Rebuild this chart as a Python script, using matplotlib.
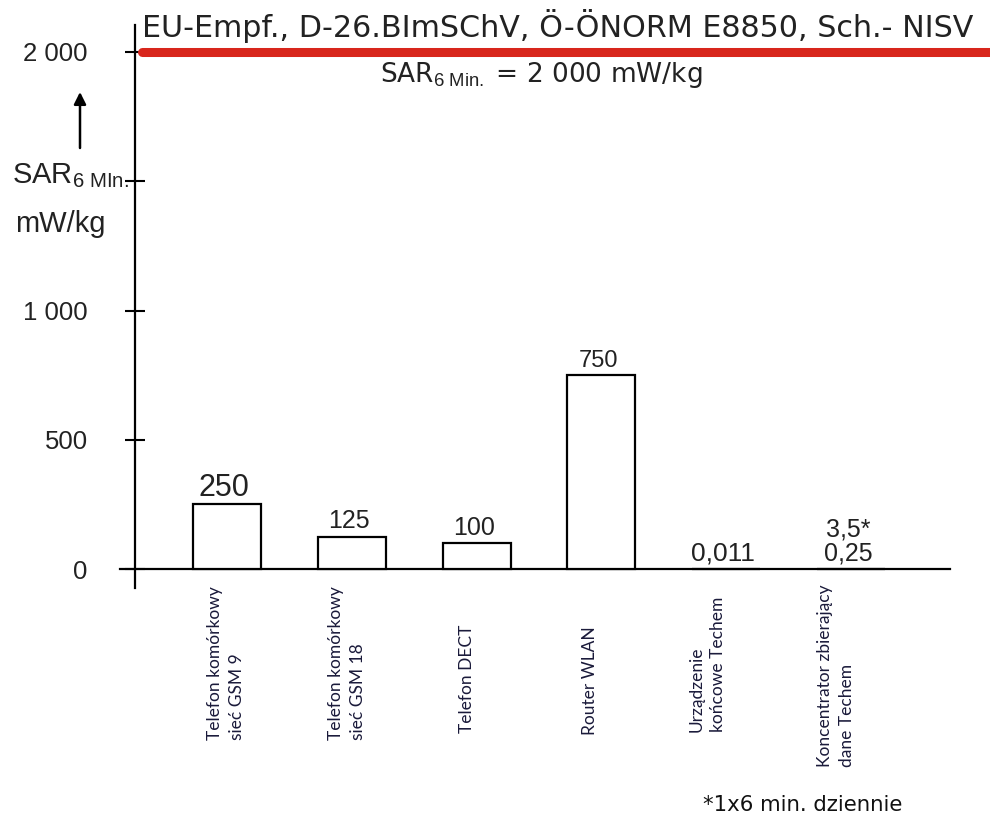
import matplotlib
matplotlib.use("Agg")
import matplotlib.pyplot as plt
import matplotlib.transforms as mtransforms

# data
categories = [
    "Telefon komórkowy\nsieć GSM 9",
    "Telefon komórkowy\nsieć GSM 18",
    "Telefon DECT",
    "Router WLAN",
    "Urządzenie\nkońcowe Techem",
    "Koncentrator zbierający\ndane Techem",
]
sar_values = [250, 125, 100, 750, 0.011, 0.25]
value_labels = ["250", "125", "100", "750", "0,011", "3,5*\n0,25"]
limit_value = 2000
y_ticks = [0, 500, 1000, 1500, 2000]
y_tick_labels = ["0", "500", "1 000", "", "2 000"]
limit_text = "EU-Empf., D-26.BImSChV, Ö-ÖNORM E8850, Sch.- NISV"
limit_label = r"SAR$_{\mathrm{6\ Min.}}$ = 2 000 mW/kg"
footnote = "*1x6 min. dziennie"

# styles
bar_faces = ["white", "white", "white", "white", "#9a9a9a", "#9a9a9a"]
label_sizes = [22, 18, 18, 17, 19, 18]
name_bottoms = [740, 740, 733, 735, 732, 767]   # px from top of figure
name_shifts = [-1, -5, -10, -11, -19, -15]      # px from bar centre
W, H = 990, 817
PX_PER_BAR = 124.8

plt.rcParams["font.family"] = ["Liberation Sans", "DejaVu Sans"]
plt.rcParams["mathtext.fontset"] = "custom"
plt.rcParams["mathtext.rm"] = "Liberation Sans"
plt.rcParams["mathtext.it"] = "Liberation Sans:italic"


def fx(px):
    return px / W


def fy(py):
    return 1 - py / H


fig = plt.figure(figsize=(W / 100, H / 100), dpi=100)
ax = fig.add_axes([fx(120), fy(588), fx(950) - fx(120), fy(25) - fy(588)])

x = list(range(len(sar_values)))
ax.set_xlim(-0.857, 5.793)
ax.set_ylim(-73, 2104)

ax.bar(x, sar_values, width=0.545, color=bar_faces, edgecolor="black",
       linewidth=1.6, zorder=3)

for i, v in enumerate(sar_values):
    ax.annotate(value_labels[i], (x[i], v), xytext=(-2, 6),
                textcoords="offset points", ha="center", va="baseline",
                fontsize=label_sizes[i], linespacing=1.0, color="#222222")

# limit line
ax.plot([-0.677, 6.3], [limit_value, limit_value], color="#d8261c", lw=6.5,
        solid_capstyle="round", clip_on=False, zorder=4)

# axes look
for s in ["top", "right"]:
    ax.spines[s].set_visible(False)
ax.spines["left"].set_position(("data", -0.737))
ax.spines["bottom"].set_position(("data", 0))
ax.spines["left"].set_linewidth(1.6)
ax.spines["bottom"].set_linewidth(1.6)
ax.set_xticks([])
ax.set_yticks(y_ticks)
ax.set_yticklabels(y_tick_labels, fontsize=18.5, color="#222222")
ax.tick_params(axis="y", direction="inout", length=14, width=1.5, pad=27)

# category names, rotated
trans = mtransforms.blended_transform_factory(ax.transData, fig.transFigure)
for i, name in enumerate(categories):
    ax.text(x[i] + name_shifts[i] / PX_PER_BAR, fy(name_bottoms[i]), name,
            transform=trans, rotation=90, ha="center", va="bottom",
            multialignment="left", fontsize=12.5, family="Lato",
            linespacing=1.45, color="#1a1a3a")

# texts around the limit line
fig.text(fx(142), fy(37), limit_text, ha="left", va="baseline",
         fontsize=21.7, family="DejaVu Sans", color="#222222")
fig.text(fx(380), fy(82), limit_label, ha="left", va="baseline",
         fontsize=19, family="DejaVu Sans", color="#222222")

# y axis caption with arrow
fig.text(fx(12), fy(183), r"SAR$_{\mathrm{6\ MIn.}}$", ha="left",
         va="baseline", fontsize=21, color="#222222")
fig.text(fx(15), fy(232), "mW/kg", ha="left", va="baseline",
         fontsize=21, color="#222222")
fig.add_artist(matplotlib.patches.FancyArrowPatch(
    (fx(80), fy(148)), (fx(80), fy(92)), transform=fig.transFigure,
    arrowstyle="-|>", mutation_scale=18, lw=1.8, color="black",
    shrinkA=0, shrinkB=0))

fig.text(fx(703), fy(815), footnote, ha="left", va="bottom",
         fontsize=15.3, family="DejaVu Sans", color="#111111")

fig.savefig("out.png", dpi=100, facecolor="white")
